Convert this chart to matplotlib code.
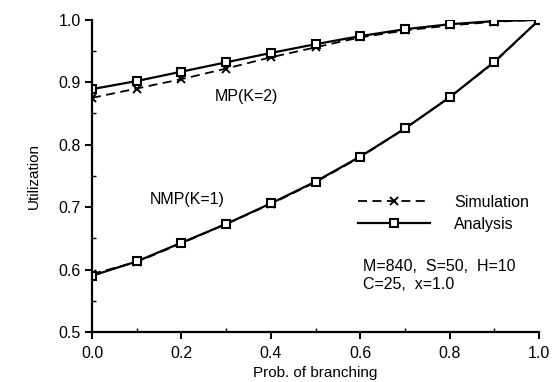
import matplotlib
matplotlib.use("Agg")
import matplotlib.pyplot as plt
from matplotlib.ticker import MultipleLocator, FormatStrFormatter

plt.rcParams['font.family'] = ['Liberation Sans', 'DejaVu Sans']

prob = [0.0, 0.1, 0.2, 0.3, 0.4, 0.5, 0.6, 0.7, 0.8, 0.9, 1.0]
mp_analysis = [0.889, 0.902, 0.917, 0.932, 0.947, 0.961, 0.974, 0.985, 0.993, 0.998, 1.0]
mp_simulation = [0.875, 0.890, 0.905, 0.922, 0.940, 0.956, 0.972, 0.983, 0.991, 0.997, 1.0]
nmp_analysis = [0.590, 0.613, 0.643, 0.673, 0.706, 0.741, 0.781, 0.826, 0.876, 0.933, 1.0]
nmp_simulation = [0.593, 0.612, 0.642, 0.673, 0.705, 0.740, 0.780, 0.826, 0.876, 0.932, 1.0]

fig = plt.figure(figsize=(5.52, 3.82), dpi=100)
ax = fig.add_axes([0.1667, 0.131, 0.81, 0.817])

sim_kw = dict(color='black', linestyle=(0, (5, 3)), linewidth=1.3, marker='x',
              markersize=5.5, markeredgewidth=1.4)
ana_kw = dict(color='black', linestyle='-', linewidth=1.6, marker='s', markersize=5.5,
              markerfacecolor='white', markeredgewidth=1.5)

l1, = ax.plot(prob, mp_simulation, **sim_kw)
l2, = ax.plot(prob, mp_analysis, **ana_kw)
ax.plot(prob, nmp_simulation, **sim_kw)
ax.plot(prob, nmp_analysis, **ana_kw)

ax.set_xlim(0, 1.0)
ax.set_ylim(0.5, 1.0)
ax.xaxis.set_major_locator(MultipleLocator(0.2))
ax.xaxis.set_minor_locator(MultipleLocator(0.1))
ax.yaxis.set_major_locator(MultipleLocator(0.1))
ax.yaxis.set_minor_locator(MultipleLocator(0.05))
ax.xaxis.set_major_formatter(FormatStrFormatter('%.1f'))
ax.yaxis.set_major_formatter(FormatStrFormatter('%.1f'))

for s in ['top', 'right']:
    ax.spines[s].set_visible(False)
for s in ['left', 'bottom']:
    ax.spines[s].set_linewidth(1.6)

ax.tick_params(which='major', direction='out', length=5, width=1.4, labelsize=11.5)
ax.tick_params(which='minor', direction='in', length=3, width=1.0)
ax.tick_params(axis='x', which='major', pad=5)
ax.tick_params(axis='y', which='major', pad=3)

ax.set_xlabel('Prob. of branching', fontsize=11, labelpad=4)
ax.set_ylabel('Utilization', fontsize=11, labelpad=13)

ax.text(0.275, 0.877, 'MP(K=2)', fontsize=11.5, ha='left', va='center')
ax.text(0.13, 0.7115, 'NMP(K=1)', fontsize=11.5, ha='left', va='center')

ax.legend([l1, l2], ['Simulation', 'Analysis'], loc='upper left',
          bbox_to_anchor=(0.595, 0.44), frameon=False, fontsize=11.5,
          handlelength=4.5, handletextpad=1.5, labelspacing=0.45,
          borderpad=0, borderaxespad=0, numpoints=1)

ax.text(0.606, 0.591, 'M=840,  S=50,  H=10\nC=25,  x=1.0', fontsize=11.5,
        ha='left', va='center', linespacing=1.25)

fig.savefig('out.png', dpi=100)
